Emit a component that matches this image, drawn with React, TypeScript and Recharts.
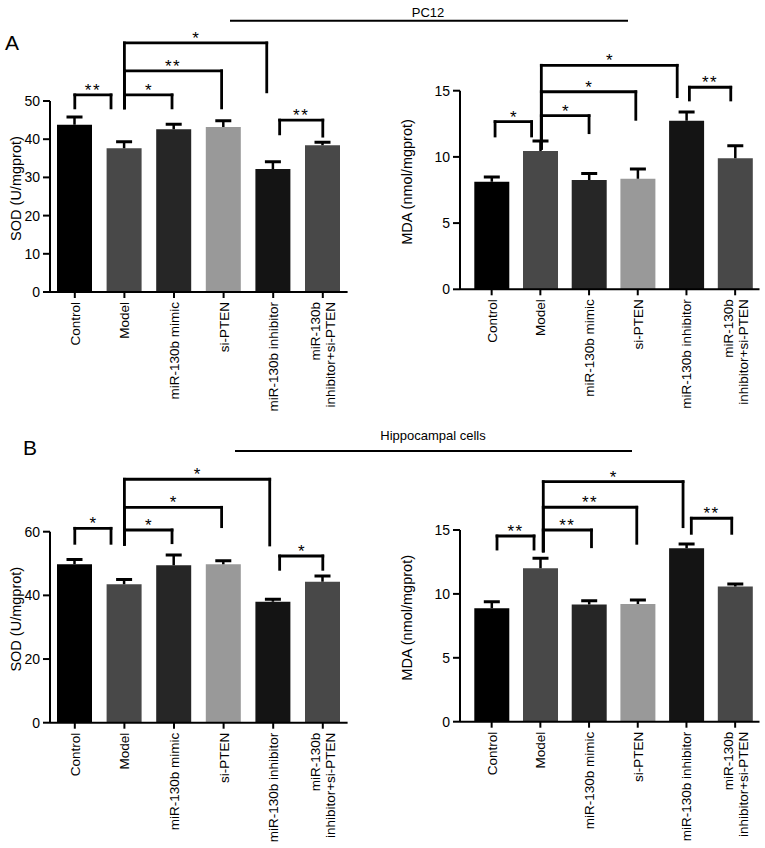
import React from 'react';
import { BarChart, Bar, XAxis, YAxis, ReferenceLine, Cell, Label } from 'recharts';

const FONT = '"Liberation Sans", Arial, Helvetica, sans-serif';

const categories = [
  'Control',
  'Model',
  'miR-130b mimic',
  'si-PTEN',
  'miR-130b inhibitor',
  'miR-130b\ninhibitor+si-PTEN',
];
const barColors = ['#000000', '#484848', '#262626', '#999999', '#141414', '#484848'];

// PC12
const pc12SodMean = [43.8, 37.6, 42.6, 43.2, 32.2, 38.4];
const pc12SodErr = [2.0, 1.7, 1.3, 1.6, 1.9, 0.8];
const pc12MdaMean = [8.13, 10.45, 8.25, 8.35, 12.73, 9.9];
const pc12MdaErr = [0.35, 0.75, 0.5, 0.74, 0.67, 0.95];
// Hippocampal cells
const hipSodMean = [49.8, 43.5, 49.5, 49.8, 38.0, 44.3];
const hipSodErr = [1.5, 1.5, 3.2, 1.1, 0.8, 1.8];
const hipMdaMean = [8.87, 12.0, 9.18, 9.21, 13.57, 10.57];
const hipMdaErr = [0.52, 0.78, 0.29, 0.31, 0.33, 0.2];

const sodTicksA = [0, 10, 20, 30, 40, 50];
const sodTicksB = [0, 20, 40, 60];
const mdaTicks = [0, 5, 10, 15];

// brackets: [xStart, xEnd, yTop, yLeftLegEnd, yRightLegEnd, stars]
type Bracket = [number, number, number, number, number, string];
const pc12SodBrackets: Bracket[] = [
  [0, 0.73, 51.6, 48.2, 48.2, '**'],
  [1, 3.87, 65.2, 48.2, 52.4, '*'],
  [1, 2.96, 57.9, 48.2, 48.2, '**'],
  [1, 1.96, 51.6, 48.2, 48.2, '*'],
  [4.13, 5.0, 45.0, 41.4, 40.8, '**'],
];
const pc12MdaBrackets: Bracket[] = [
  [0.07, 0.82, 12.66, 11.58, 11.58, '*'],
  [1.02, 3.81, 16.92, 10.65, 14.55, '*'],
  [1.02, 2.96, 14.92, 10.65, 12.84, '*'],
  [1.02, 2.0, 13.11, 10.65, 11.83, '*'],
  [4.06, 4.91, 15.26, 14.3, 14.3, '**'],
];
const hipSodBrackets: Bracket[] = [
  [0, 0.73, 61.07, 56.36, 56.36, '*'],
  [1, 3.93, 76.47, 56.05, 55.83, '*'],
  [1, 2.96, 67.67, 56.05, 61.58, '*'],
  [1, 1.96, 60.54, 56.05, 56.55, '*'],
  [4.13, 5.0, 52.37, 48.19, 48.19, '*'],
];
const hipMdaBrackets: Bracket[] = [
  [0.11, 0.87, 14.53, 13.51, 13.51, '**'],
  [1.06, 3.93, 18.78, 13.36, 15.26, '*'],
  [1.06, 2.98, 16.78, 13.36, 13.96, '**'],
  [1.06, 2.05, 15.0, 13.36, 13.69, '**'],
  [4.1, 4.93, 15.92, 14.74, 14.74, '**'],
];

const ErrShape = (props: any) => {
  const { x, y, width, height } = props;
  if (x == null || y == null) return null;
  const cx = x + width / 2;
  return (
    <g>
      <line x1={cx} x2={cx} y1={y + height} y2={y} stroke="#000" strokeWidth={2.5} />
      <line x1={cx - 8} x2={cx + 8} y1={y} y2={y} stroke="#000" strokeWidth={3} />
    </g>
  );
};

const XTick = (props: any) => {
  const { x, y, payload } = props;
  const lines = categories[payload.value].split('\n');
  const n = lines.length;
  return (
    <text
      transform={`translate(${x},${y + 2}) rotate(-90)`}
      textAnchor="end"
      fontSize={13.5}
      fontFamily={FONT}
      fill="#000"
    >
      {lines.map((l, k) => (
        <tspan key={k} x={0} y={5 + (k - (n - 1) / 2) * 15}>
          {l}
        </tspan>
      ))}
    </text>
  );
};

const StarLabel = (props: any) => {
  const { viewBox, text } = props;
  if (!viewBox) return null;
  const cx = viewBox.x + viewBox.width / 2;
  return (
    <text
      x={cx}
      y={viewBox.y + 1}
      textAnchor="middle"
      fontSize={17}
      fontFamily={FONT}
      fill="#000"
      letterSpacing={text.length > 1 ? 1.5 : 0}
    >
      {text}
    </text>
  );
};

type PanelProps = {
  left: number;
  top: number;
  width: number;
  height: number;
  mean: number[];
  err: number[];
  brackets: Bracket[];
  yDomain: [number, number];
  yTicks: number[];
  yLabel: string;
  marginTop: number;
  marginRight: number;
  yAxisWidth: number;
  xAxisHeight: number;
  xDomain: [number, number];
  labelDx: number;
  labelDy: number;
};

const Panel = (p: PanelProps) => {
  const data = p.mean.map((m, i) => ({ i, mean: m, err: p.err[i] }));
  const stroke = { stroke: '#000', strokeWidth: 2.8, strokeLinecap: 'square' as const };
  return (
    <div style={{ position: 'absolute', left: p.left, top: p.top }}>
      <BarChart
        width={p.width}
        height={p.height}
        data={data}
        margin={{ top: p.marginTop, right: p.marginRight, bottom: 0, left: 0 }}
      >
        <XAxis
          type="number"
          dataKey="i"
          domain={p.xDomain}
          ticks={[0, 1, 2, 3, 4, 5]}
          interval={0}
          height={p.xAxisHeight}
          tick={<XTick />}
          tickSize={6}
          tickMargin={2}
          axisLine={{ stroke: '#000', strokeWidth: 2 }}
          tickLine={{ stroke: '#000', strokeWidth: 2 }}
          allowDataOverflow
        />
        <YAxis
          type="number"
          domain={p.yDomain}
          ticks={p.yTicks}
          interval={0}
          width={p.yAxisWidth}
          tickSize={7}
          tickMargin={3}
          axisLine={{ stroke: '#000', strokeWidth: 2 }}
          tickLine={{ stroke: '#000', strokeWidth: 2 }}
          tick={{ fill: '#000', fontSize: 14, fontFamily: FONT }}
          allowDataOverflow
        >
          <Label
            value={p.yLabel}
            angle={-90}
            position="center"
            dx={p.labelDx}
            dy={p.labelDy}
            fontSize={14.5}
            fontFamily={FONT}
            fill="#000"
          />
        </YAxis>
        <Bar dataKey="mean" stackId="s" barSize={35} isAnimationActive={false}>
          {data.map((d, k) => (
            <Cell key={k} fill={barColors[k]} />
          ))}
        </Bar>
        <Bar dataKey="err" stackId="s" barSize={35} isAnimationActive={false} shape={<ErrShape />} />
        {p.brackets.map((b, k) => (
          <ReferenceLine
            key={`t${k}`}
            segment={[{ x: b[0], y: b[2] }, { x: b[1], y: b[2] }]}
            ifOverflow="visible"
            {...stroke}
            label={<StarLabel text={b[5]} />}
          />
        ))}
        {p.brackets.map((b, k) => (
          <ReferenceLine
            key={`l${k}`}
            segment={[{ x: b[0], y: b[2] }, { x: b[0], y: b[3] }]}
            ifOverflow="visible"
            {...stroke}
          />
        ))}
        {p.brackets.map((b, k) => (
          <ReferenceLine
            key={`r${k}`}
            segment={[{ x: b[1], y: b[2] }, { x: b[1], y: b[4] }]}
            ifOverflow="visible"
            {...stroke}
          />
        ))}
      </BarChart>
    </div>
  );
};

export default function App() {
  return (
    <div
      style={{
        position: 'absolute',
        left: 0,
        top: 0,
        width: 765,
        height: 848,
        background: '#fff',
        fontFamily: FONT,
        overflow: 'hidden',
      }}
    >
      <svg width={765} height={848} style={{ position: 'absolute', left: 0, top: 0 }}>
        <text x={5} y={50} fontSize={21} fontFamily={FONT} fill="#000">A</text>
        <text x={23} y={455} fontSize={21} fontFamily={FONT} fill="#000">B</text>
        <text x={428} y={17} fontSize={13} fontFamily={FONT} fill="#000" textAnchor="middle">PC12</text>
        <line x1={230} x2={628} y1={20.7} y2={20.7} stroke="#000" strokeWidth={2} />
        <text x={433} y={440} fontSize={13} fontFamily={FONT} fill="#000" textAnchor="middle">Hippocampal cells</text>
        <line x1={235} x2={632} y1={451} y2={451} stroke="#000" strokeWidth={2} />
      </svg>
      <Panel
        left={0}
        top={0}
        width={365}
        height={430}
        mean={pc12SodMean}
        err={pc12SodErr}
        brackets={pc12SodBrackets}
        yDomain={[0, 50]}
        yTicks={sodTicksA}
        yLabel="SOD (U/mgprot)"
        marginTop={101}
        marginRight={17.4}
        yAxisWidth={50}
        xAxisHeight={138}
        xDomain={[-0.5, 5.5]}
        labelDx={-9}
        labelDy={-8}
      />
      <Panel
        left={380}
        top={0}
        width={385}
        height={430}
        mean={pc12MdaMean}
        err={pc12MdaErr}
        brackets={pc12MdaBrackets}
        yDomain={[0, 15]}
        yTicks={mdaTicks}
        yLabel="MDA (nmol/mgprot)"
        marginTop={90.7}
        marginRight={5.5}
        yAxisWidth={80}
        xAxisHeight={140.7}
        xDomain={[-0.65, 5.5]}
        labelDx={-13}
        labelDy={-8}
      />
      <Panel
        left={0}
        top={430}
        width={365}
        height={418}
        mean={hipSodMean}
        err={hipSodErr}
        brackets={hipSodBrackets}
        yDomain={[0, 60]}
        yTicks={sodTicksB}
        yLabel="SOD (U/mgprot)"
        marginTop={101.7}
        marginRight={17.4}
        yAxisWidth={50}
        xAxisHeight={125.3}
        xDomain={[-0.5, 5.5]}
        labelDx={-9}
        labelDy={-8}
      />
      <Panel
        left={380}
        top={430}
        width={385}
        height={418}
        mean={hipMdaMean}
        err={hipMdaErr}
        brackets={hipMdaBrackets}
        yDomain={[0, 15]}
        yTicks={mdaTicks}
        yLabel="MDA (nmol/mgprot)"
        marginTop={100}
        marginRight={5.5}
        yAxisWidth={80}
        xAxisHeight={126.3}
        xDomain={[-0.65, 5.5]}
        labelDx={-13}
        labelDy={-8}
      />
    </div>
  );
}
